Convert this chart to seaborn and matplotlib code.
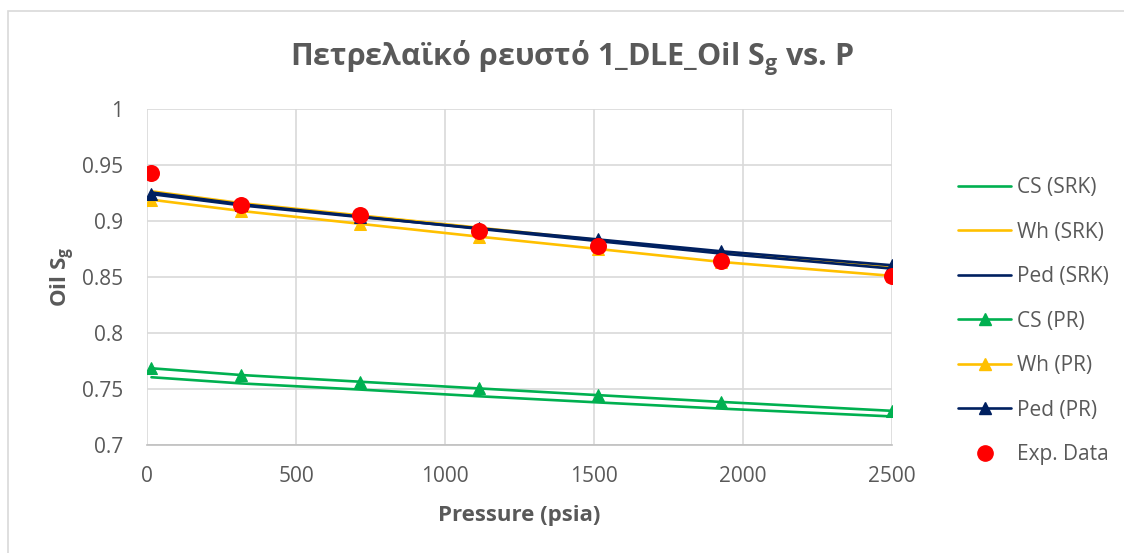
import matplotlib
matplotlib.use("Agg")
import matplotlib.pyplot as plt
import seaborn as sns
import numpy as np
import pandas as pd
from matplotlib.patches import Rectangle
from matplotlib.ticker import FuncFormatter
from matplotlib.lines import Line2D

pressure = [15, 315, 715, 1115, 1515, 1925, 2500]
cs_srk = [0.7605, 0.7550, 0.7495, 0.7435, 0.7380, 0.7325, 0.7255]
wh_srk = [0.9265, 0.9160, 0.9050, 0.8940, 0.8830, 0.8720, 0.8590]
ped_srk = [0.9255, 0.9150, 0.9040, 0.8930, 0.8820, 0.8710, 0.8575]
cs_pr = [0.7685, 0.7625, 0.7565, 0.7505, 0.7445, 0.7385, 0.7305]
wh_pr = [0.9190, 0.9090, 0.8975, 0.8860, 0.8750, 0.8635, 0.8510]
ped_pr = [0.9240, 0.9140, 0.9035, 0.8935, 0.8835, 0.8730, 0.8605]
exp_p = [15, 315, 715, 1115, 1515, 1925, 2500]
exp_sg = [0.9430, 0.9140, 0.9050, 0.8910, 0.8775, 0.8645, 0.8510]

GREEN = "#00B050"
YELLOW = "#FFC000"
NAVY = "#002060"
RED = "#FF0000"
GRID = "#D9D9D9"
TXT = "#595959"

sns.set_style("white")
plt.rcParams['font.family'] = ['Open Sans', 'Noto Sans', 'DejaVu Sans']
plt.rcParams['mathtext.fontset'] = 'custom'
plt.rcParams['mathtext.rm'] = 'Open Sans'
plt.rcParams['mathtext.bf'] = 'Open Sans:bold'

W, H = 1124, 553
fig = plt.figure(figsize=(W / 100, H / 100), dpi=100)
ax = fig.add_axes([147 / W, 1 - 445 / H, (892 - 147) / W, (445 - 109) / H])

fig.patches.append(Rectangle((8 / W, -0.5), 2, 0.5 + 1 - 11 / H, transform=fig.transFigure,
                             fill=False, edgecolor=GRID, linewidth=1.2, zorder=0))

series = [
    ("CS (SRK)", cs_srk, GREEN, None),
    ("Wh (SRK)", wh_srk, YELLOW, None),
    ("Ped (SRK)", ped_srk, NAVY, None),
    ("CS (PR)", cs_pr, GREEN, "^"),
    ("Wh (PR)", wh_pr, YELLOW, "^"),
    ("Ped (PR)", ped_pr, NAVY, "^"),
]
order_z = {"CS (SRK)": 3, "Wh (SRK)": 3, "Ped (SRK)": 4, "CS (PR)": 3, "Wh (PR)": 3, "Ped (PR)": 5}
LW = 1.9
handles = []
for name, vals, col, mk in series:
    df = pd.DataFrame({"p": pressure, "v": vals})
    kw = dict(marker=mk, markersize=9, markeredgecolor=col, markerfacecolor=col) if mk else {}
    sns.lineplot(data=df, x="p", y="v", color=col, linewidth=LW, ax=ax, sort=False,
                 zorder=order_z[name], legend=False, **kw)
    handles.append(Line2D([], [], color=col, linewidth=LW, marker=mk, markersize=9,
                          markeredgecolor=col, markerfacecolor=col, label=name))

dfe = pd.DataFrame({"p": exp_p, "v": exp_sg})
sns.scatterplot(data=dfe, x="p", y="v", color=RED, s=150, edgecolor=RED, linewidth=0,
                ax=ax, zorder=10, legend=False)
handles.append(Line2D([], [], color=RED, linestyle="none", marker="o", markersize=11,
                      markeredgecolor=RED, label="Exp. Data"))

ax.set_xlim(0, 2500)
ax.set_ylim(0.7, 1.0)
ax.set_xticks([0, 500, 1000, 1500, 2000, 2500])
ax.set_yticks([0.7, 0.75, 0.8, 0.85, 0.9, 0.95, 1.0])
ax.yaxis.set_major_formatter(FuncFormatter(lambda v, p: f"{v:g}"))
ax.grid(True, color=GRID, linewidth=1.2)
ax.set_axisbelow(True)
for s in ["top", "right", "left"]:
    ax.spines[s].set_visible(False)
ax.spines["bottom"].set_color("#BFBFBF")
ax.spines["bottom"].set_linewidth(1.2)
ax.tick_params(axis="both", length=0, labelsize=15, labelcolor=TXT)
ax.tick_params(axis="y", pad=17)
ax.tick_params(axis="x", pad=15)

ax.set_xlabel("Pressure (psia)", fontsize=16, fontweight="bold", color=TXT, va="center")
ax.xaxis.set_label_coords(0.5, (445 - 515) / 336)
ax.set_ylabel(r"Oil S$_\mathbf{g}$", fontsize=16, fontweight="bold", color=TXT, va="center")
ax.yaxis.set_label_coords((63 - 147) / 745, 0.5)

fig.text(572 / W, 1 - 66 / H, r"Πετρελαϊκό ρευστό 1_DLE_Oil S$_\mathbf{g}$ vs. P",
         ha="center", va="baseline", fontsize=22, fontweight="bold", color=TXT)

leg = fig.legend(handles=handles, loc="upper left", bbox_to_anchor=(958 / W, 1 - 177 / H),
                 frameon=False, fontsize=15, labelcolor=TXT, handlelength=2.55,
                 labelspacing=1.13, handletextpad=0.3, borderaxespad=0, borderpad=0)

fig.savefig("out.png", dpi=100)
